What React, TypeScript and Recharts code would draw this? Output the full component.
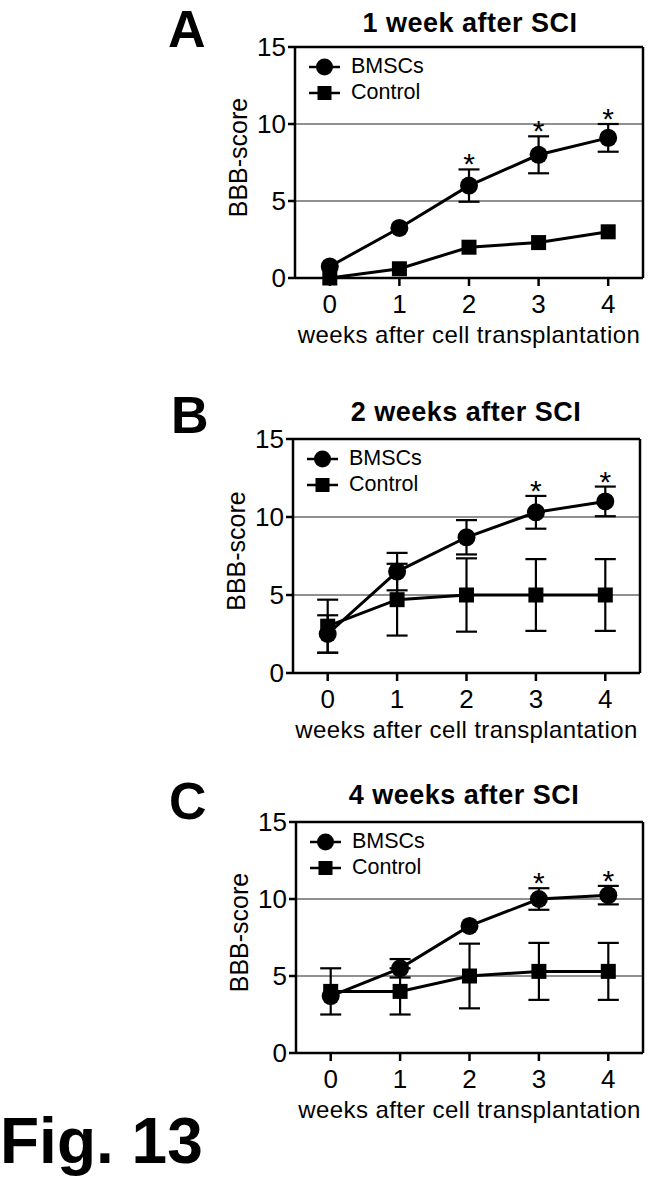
import React from 'react';
import { ComposedChart, Line, XAxis, YAxis, ErrorBar, ReferenceLine, Scatter, Legend, Label } from 'recharts';

const FONT = '"Liberation Sans", Arial, Helvetica, sans-serif';

const weeks = [0, 1, 2, 3, 4];
const xTicks = [0, 1, 2, 3, 4];
const yTicks = [0, 5, 10, 15];

// A: 1 week after SCI
const bmscA = [0.75, 3.25, 6.0, 8.0, 9.1];
const bmscErrA = [null, null, 1.05, 1.2, 0.9];
const controlA = [0, 0.6, 2.0, 2.3, 3.0];
const controlErrA = [null, null, null, null, null];
const starsA = [false, false, true, true, true];

// B: 2 weeks after SCI
const bmscB = [2.5, 6.5, 8.7, 10.3, 11.0];
const bmscErrB = [1.2, 1.2, 1.1, 1.05, 0.95];
const controlB = [3.0, 4.7, 5.0, 5.0, 5.0];
const controlErrB = [1.7, 2.3, 2.35, 2.3, 2.3];
const starsB = [false, false, false, true, true];

// C: 4 weeks after SCI
const bmscC = [3.7, 5.5, 8.25, 10.0, 10.25];
const bmscErrC = [null, 0.6, null, 0.7, 0.6];
const controlC = [4.0, 4.0, 5.0, 5.3, 5.3];
const controlErrC = [1.5, 1.5, 2.1, 1.85, 1.85];
const starsC = [false, false, false, true, true];

const buildRows = (b: number[], be: (number | null)[], c: number[], ce: (number | null)[]) =>
  weeks.map((w, i) => ({ week: w, bmsc: b[i], bmscErr: be[i], control: c[i], controlErr: ce[i] }));

const buildStars = (b: number[], be: (number | null)[], s: boolean[]) =>
  weeks.filter((_, i) => s[i]).map((w) => {
    const i = weeks.indexOf(w);
    return { week: w, top: b[i] + (be[i] ?? 0) };
  });

const panels = [
  { id: 'A', title: '1 week after SCI', top: 0, plot: { left: 295, right: 643, top: 47, bottom: 278 }, letter: { left: 168, top: 3 }, titleAt: { center: 470, top: 10.1 },
    rows: buildRows(bmscA, bmscErrA, controlA, controlErrA), stars: buildStars(bmscA, bmscErrA, starsA) },
  { id: 'B', title: '2 weeks after SCI', top: 385, plot: { left: 293, right: 640, top: 439, bottom: 673 }, letter: { left: 171, top: 389 }, titleAt: { center: 466, top: 399.1 },
    rows: buildRows(bmscB, bmscErrB, controlB, controlErrB), stars: buildStars(bmscB, bmscErrB, starsB) },
  { id: 'C', title: '4 weeks after SCI', top: 770, plot: { left: 296, right: 643, top: 822, bottom: 1053 }, letter: { left: 169, top: 775 }, titleAt: { center: 464, top: 782.1 },
    rows: buildRows(bmscC, bmscErrC, controlC, controlErrC), stars: buildStars(bmscC, bmscErrC, starsC) },
];

const CHART_W = 653;
const CHART_H = 360;
const Y_AXIS_W = 60;
const X_AXIS_H = 30;

const SquareDot = (props: any) => {
  const { cx, cy, index } = props;
  if (cx == null || cy == null) return null;
  return <rect key={`sq-${index}`} x={cx - 7.5} y={cy - 7.5} width={15} height={15} fill="#000" />;
};

const StarShape = (props: any) => (
  <text x={props.cx} y={props.cy + 5} textAnchor="middle" fontSize={30} fontFamily={FONT} fill="#000">*</text>
);

const YLabel = (props: any) => {
  const { x, y, height } = props.viewBox;
  const cx = x + 3;
  const cy = y + height / 2 - 5;
  return (
    <text x={cx} y={cy} transform={`rotate(-90, ${cx}, ${cy})`} textAnchor="middle" dominantBaseline="central"
      fontSize={25} fontFamily={FONT} fill="#000">BBB-score</text>
  );
};

const renderLegend = (props: any) => {
  const items = (props.payload || []).filter((p: any) => p.dataKey === 'bmsc' || p.dataKey === 'control');
  return (
    <div style={{ fontFamily: FONT, fontSize: 21.5, color: '#000' }}>
      {items.map((p: any) => (
        <div key={p.value} style={{ display: 'flex', alignItems: 'center', height: 26 }}>
          <svg width={31} height={20}>
            <line x1={0} x2={31} y1={10} y2={10} stroke="#000" strokeWidth={2.5} />
            {p.dataKey === 'bmsc'
              ? <circle cx={15.5} cy={10} r={8.5} fill="#000" />
              : <rect x={8.5} y={3} width={14} height={14} fill="#000" />}
          </svg>
          <span style={{ marginLeft: 11 }}>{p.value}</span>
        </div>
      ))}
    </div>
  );
};

const Panel = ({ cfg }: { cfg: typeof panels[number] }) => {
  const { plot, top } = cfg;
  const margin = {
    top: plot.top - top,
    right: CHART_W - plot.right,
    bottom: CHART_H - (plot.bottom - top) - X_AXIS_H,
    left: plot.left - Y_AXIS_W,
  };
  const tickStyle = { fontSize: 26, fill: '#000', fontFamily: FONT };
  return (
    <div style={{ position: 'absolute', left: 0, top }}>
      <ComposedChart width={CHART_W} height={CHART_H} data={cfg.rows} margin={margin}>
        <ReferenceLine y={5} stroke="#222" strokeWidth={1.2} />
        <ReferenceLine y={10} stroke="#222" strokeWidth={1.2} />
        <ReferenceLine y={15} stroke="#000" strokeWidth={2.5} />
        <ReferenceLine x={4.5} stroke="#000" strokeWidth={2.5} />
        <XAxis dataKey="week" type="number" domain={[-0.5, 4.5]} ticks={xTicks} interval={0}
          tick={tickStyle} tickSize={8} tickMargin={9} height={X_AXIS_H}
          axisLine={{ stroke: '#000', strokeWidth: 2.5 }} tickLine={{ stroke: '#000', strokeWidth: 2.5 }}>
          <Label value="weeks after cell transplantation" position="bottom" offset={18}
            style={{ fontSize: 24, fill: '#000', fontFamily: FONT, letterSpacing: 0.4 }} />
        </XAxis>
        <YAxis type="number" domain={[0, 15]} ticks={yTicks} interval={0} width={Y_AXIS_W}
          tick={tickStyle} tickSize={7} tickMargin={2}
          axisLine={{ stroke: '#000', strokeWidth: 2.5 }} tickLine={{ stroke: '#000', strokeWidth: 2.5 }}>
          <Label content={YLabel} />
        </YAxis>
        <Legend layout="vertical" align="center" verticalAlign="middle" content={renderLegend}
          wrapperStyle={{ left: plot.left + 14, top: plot.top - top + 6.5, width: 'auto' }} />
        <Line name="BMSCs" dataKey="bmsc" stroke="#000" strokeWidth={3} isAnimationActive={false}
          dot={{ r: 9, fill: '#000', stroke: '#000', strokeWidth: 0 }} activeDot={false}>
          <ErrorBar dataKey="bmscErr" direction="y" width={10.5} stroke="#000" strokeWidth={2.2} />
        </Line>
        <Line name="Control" dataKey="control" stroke="#000" strokeWidth={3} isAnimationActive={false}
          dot={SquareDot} activeDot={false}>
          <ErrorBar dataKey="controlErr" direction="y" width={10.5} stroke="#000" strokeWidth={2.2} />
        </Line>
        <Scatter data={cfg.stars} dataKey="top" legendType="none" shape={StarShape} isAnimationActive={false} />
      </ComposedChart>
    </div>
  );
};

const letterStyle: React.CSSProperties = { position: 'absolute', fontFamily: FONT, fontWeight: 'bold', fontSize: 52, lineHeight: 1, color: '#000' };
const titleStyle: React.CSSProperties = { position: 'absolute', width: 400, textAlign: 'center', fontFamily: FONT, fontWeight: 'bold', fontSize: 27, lineHeight: 1, letterSpacing: 0.5, color: '#000' };

export default function App() {
  return (
    <div style={{ position: 'absolute', left: 0, top: 0, width: 653, height: 1184, background: '#fff', overflow: 'hidden' }}>
      {panels.map((p) => (
        <React.Fragment key={p.id}>
          <Panel cfg={p} />
          <div style={{ ...letterStyle, left: p.letter.left, top: p.letter.top }}>{p.id}</div>
          <div style={{ ...titleStyle, left: p.titleAt.center - 200, top: p.titleAt.top }}>{p.title}</div>
        </React.Fragment>
      ))}
      <div style={{ position: 'absolute', left: 0, top: 1108.8, fontFamily: FONT, fontWeight: 'bold', fontSize: 64, lineHeight: 1, color: '#000' }}>
        Fig. 13
      </div>
    </div>
  );
}
